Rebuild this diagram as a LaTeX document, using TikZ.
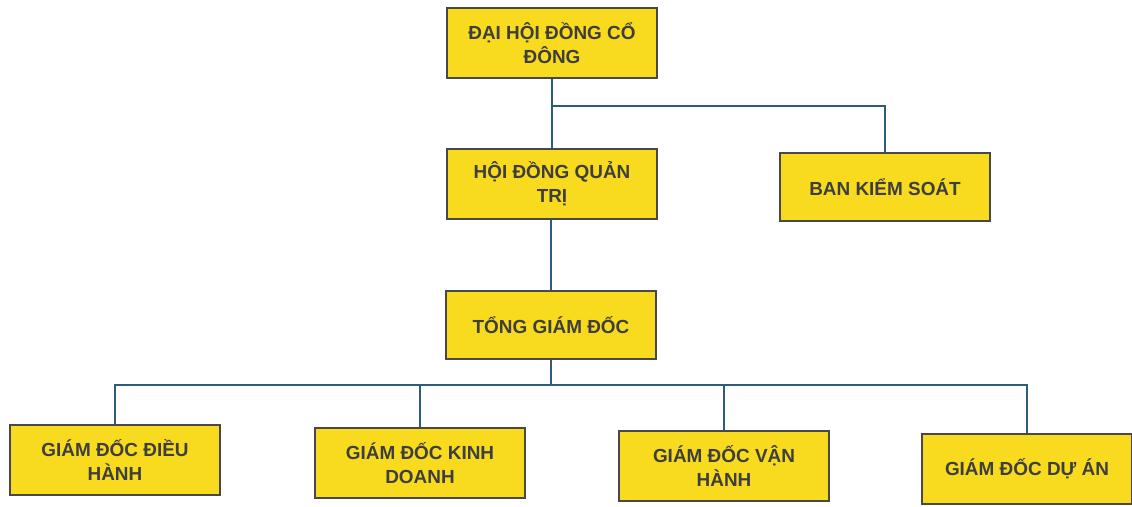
\documentclass[tikz,border=0pt]{standalone}
\usepackage{fontspec}
\setmainfont{Liberation Sans}
\usepackage{tikz}
\usetikzlibrary{positioning}

\definecolor{boxfill}{RGB}{248,218,30}
\definecolor{boxline}{RGB}{72,72,72}
\definecolor{boxtext}{RGB}{62,62,62}
\definecolor{linkline}{RGB}{45,92,122}

\tikzset{
  orgbox/.style={draw=boxline, line width=1.7pt, fill=boxfill, text=boxtext,
    minimum width=157.5pt, minimum height=52.5pt, align=center, inner sep=0pt,
    font=\fontsize{14.2}{18}\selectfont\bfseries},
  orglink/.style={draw=linkline, line width=2pt}
}

\begin{document}
\begin{tikzpicture}[x=0.75pt,y=0.75pt,yscale=-1,xscale=1]
\useasboundingbox (0,0) rectangle (1132,507);

%Shape: Rectangle (top level)
\node[orgbox] (dhdcd) at (552,43) {ĐẠI HỘI ĐỒNG CỔ\\ĐÔNG};
\node[orgbox] (hdqt) at (552,184) {HỘI ĐỒNG QUẢN\\TRỊ};
\node[orgbox, minimum height=51pt] (bks) at (885,187) {BAN KIỂM SOÁT};
\node[orgbox, minimum height=51pt] (tgd) at (551,325) {TỔNG GIÁM ĐỐC};

%Shape: Rectangle (bottom row)
\node[orgbox] (gddh) at (115,460) {GIÁM ĐỐC ĐIỀU\\HÀNH};
\node[orgbox] (gdkd) at (420,463) {GIÁM ĐỐC KINH\\DOANH};
\node[orgbox] (gdvh) at (724,466) {GIÁM ĐỐC VẬN\\HÀNH};
\node[orgbox] (gdda) at (1027,469) {GIÁM ĐỐC DỰ ÁN};

%Straight Lines
\coordinate (split) at (552,106);
\coordinate (bus) at (551,385);
\draw[orglink] (dhdcd.south) -- (hdqt.north);
\draw[orglink] (split) -| (bks.north);
\draw[orglink] (hdqt.south -| tgd.north) -- (tgd.north);
\draw[orglink] (tgd.south) -- (bus);
\draw[orglink] (gddh.north) |- (gdda.north |- bus) -- (gdda.north);
\draw[orglink] (gdkd.north) -- (gdkd.north |- bus);
\draw[orglink] (gdvh.north) -- (gdvh.north |- bus);

\end{tikzpicture}
\end{document}
